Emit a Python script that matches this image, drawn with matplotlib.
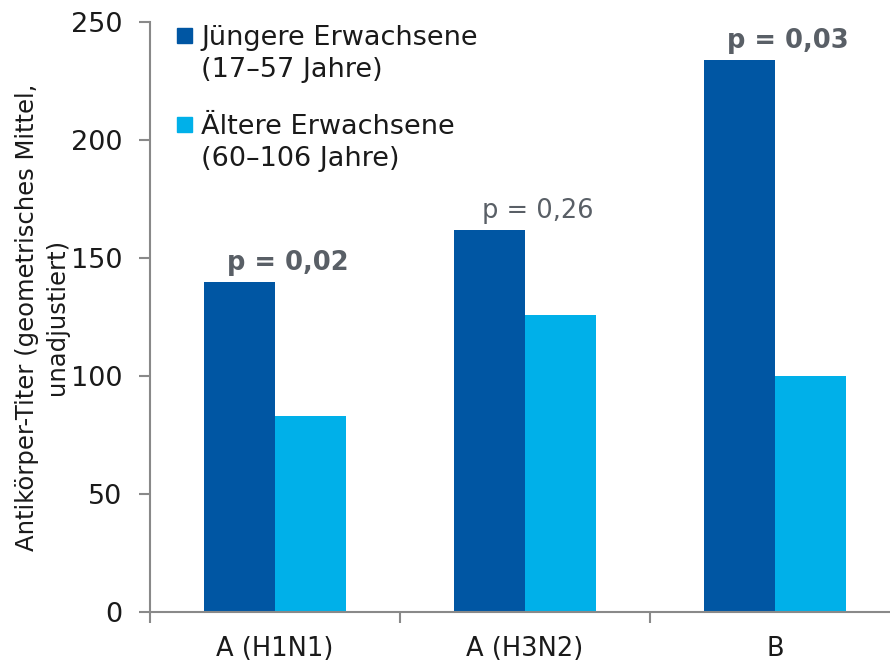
import matplotlib
matplotlib.use("Agg")
import numpy as np
import matplotlib.pyplot as plt
from matplotlib.patches import Rectangle

plt.rcParams['font.family'] = ['DejaVu Sans']

# Data
categories = ['A (H1N1)', 'A (H3N2)', 'B']
young = [140, 162, 234]
old = [83, 126, 100]
p_labels = ['p = 0,02', 'p = 0,26', 'p = 0,03']
p_bold = [True, False, True]
series_labels = ['Jüngere Erwachsene\n(17–57 Jahre)', 'Ältere Erwachsene\n(60–106 Jahre)']

dark = '#0056A3'
light = '#00B0E9'
spine_col = '#898989'
ptxt = '#595F66'

W, H = 890, 665
fig = plt.figure(figsize=(W / 100, H / 100), dpi=100)
ax = fig.add_axes([150 / W, (H - 612) / H, 750 / W, 590 / H])

x = np.arange(len(categories))
bw = 0.285
ax.bar(x - bw / 2, young, bw, color=dark)
ax.bar(x + bw / 2, old, bw, color=light)

ax.set_xlim(-0.5, 2.5)
ax.set_ylim(0, 250)
ax.set_yticks([0, 50, 100, 150, 200, 250])
ax.tick_params(axis='y', length=8, width=1.5, color=spine_col, pad=12,
               labelsize=19.5, labelcolor='#1a1a1a')
ax.set_xticks(x)
ax.set_xticklabels(categories)
ax.tick_params(axis='x', which='major', length=0, pad=17, labelsize=18.5,
               labelcolor='#1a1a1a')
ax.set_xticks([-0.5, 0.5, 1.5, 2.5], minor=True)
ax.tick_params(axis='x', which='minor', length=8, width=1.5, color=spine_col)

for s in ['top', 'right']:
    ax.spines[s].set_visible(False)
for s in ['left', 'bottom']:
    ax.spines[s].set_color(spine_col)
    ax.spines[s].set_linewidth(1.5)

# p-values above groups
for i, (lab, b) in enumerate(zip(p_labels, p_bold)):
    ax.text(x[i] + 0.05, young[i] + 2.5, lab, ha='center', va='bottom',
            fontsize=18.5, color=ptxt, fontweight='bold' if b else 'normal')

# legend (handle aligned with first line)
leg_y = [28, 117]
for col, lab, y0 in zip([dark, light], series_labels, leg_y):
    fig.patches.append(Rectangle((177 / W, (H - y0 - 15) / H), 15 / W, 15 / H,
                                 transform=fig.transFigure, color=col))
    fig.text(201 / W, (H - y0 + 3) / H, lab, ha='left', va='top',
             fontsize=19.5, color='#1a1a1a', linespacing=1.3)

fig.text(42 / W, (H - 317) / H,
         'Antikörper-Titer (geometrisches Mittel,\nunadjustiert)',
         rotation=90, ha='center', va='center', multialignment='center',
         fontsize=17.5, color='#1a1a1a', linespacing=1.3)

fig.savefig('out.png', dpi=100)
